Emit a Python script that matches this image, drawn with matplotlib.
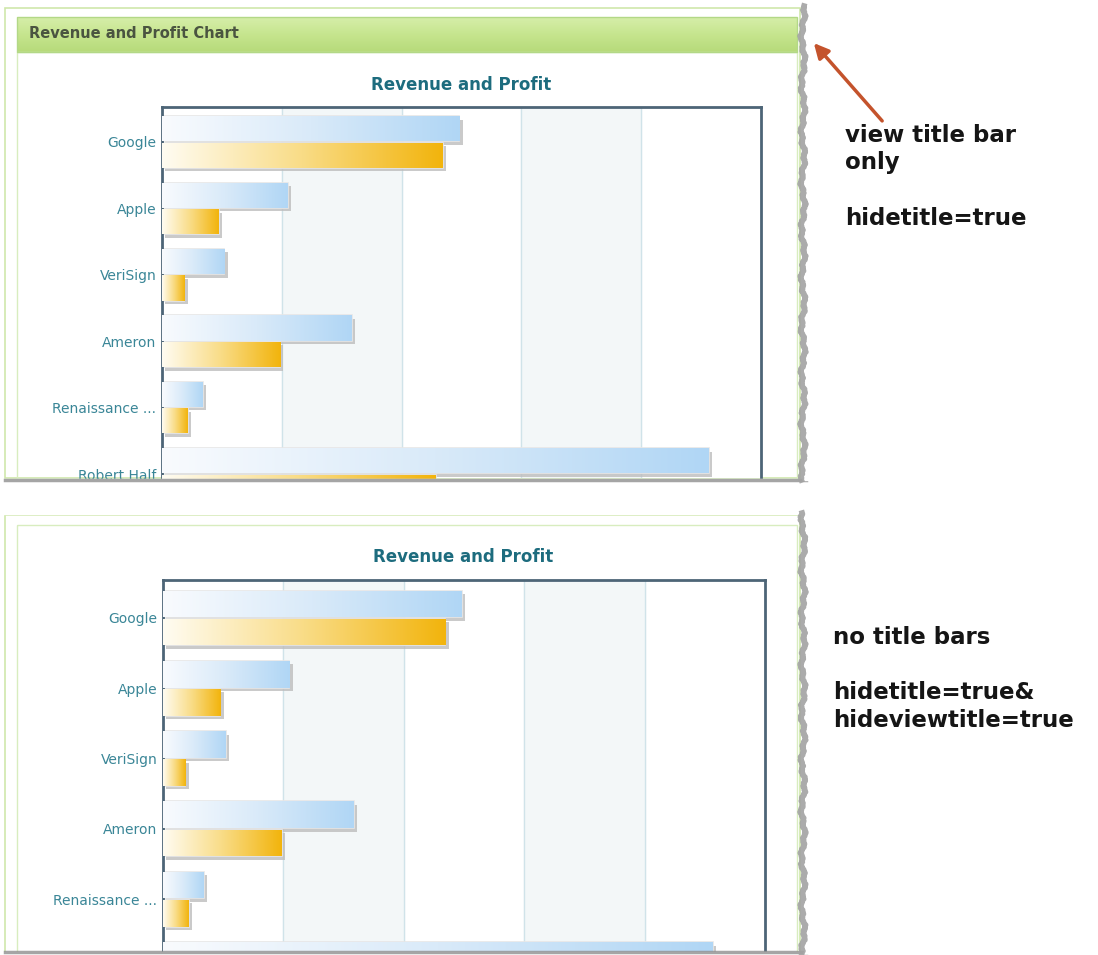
import numpy as np
import matplotlib
matplotlib.use("Agg")
import matplotlib.pyplot as plt
import matplotlib.patheffects as pe
from matplotlib.patches import Rectangle
from matplotlib.colors import LinearSegmentedColormap

# data (gridline step = 20)
companies = ["Google", "Apple", "VeriSign", "Ameron", "Renaissance ...", "Robert Half"]
revenue = [49.6, 21.0, 10.4, 31.7, 6.8, 91.3]
profit = [46.9, 9.5, 3.7, 19.7, 4.3, 45.7]
grid_ticks = [20, 40, 60, 80]
bands = [(20, 40), (60, 80)]

W, H = 1098, 955
fig = plt.figure(figsize=(W / 100, H / 100), dpi=100)
fig.patch.set_facecolor("white")

blue = LinearSegmentedColormap.from_list("rev", ["#f9fbfe", "#d9eaf9", "#b0d6f5"])
gold = LinearSegmentedColormap.from_list("prof", ["#fffcf2", "#f9dc86", "#f2b40c"])
green = LinearSegmentedColormap.from_list("bar", ["#d6eeaa", "#c6e58e", "#b6da7a"])
grad = np.linspace(0, 1, 256).reshape(1, -1)


def px_axes(l, t, r, b, z):
    return fig.add_axes([l / W, 1 - b / H, (r - l) / W, (b - t) / H], zorder=z)


# background layer in pixel coords (y down)
bg = px_axes(0, 0, W, H, 0)
bg.axis("off")

# top panel frame + green view title bar
bg.add_patch(Rectangle((5, 8), 795, 470, fill=False, ec="#cfe7ab", lw=1.2))
bg.imshow(grad.T, cmap=green, aspect="auto", extent=(17, 797, 52, 17), zorder=1)
bg.add_patch(Rectangle((17, 17), 780, 35, fill=False, ec="#b3d887", lw=1, zorder=2))
bg.add_patch(Rectangle((17, 52), 780, 426, fill=False, ec="#d8edbf", lw=1))
bg.text(29, 33, "Revenue and Profit Chart", fontsize=10.5, fontweight="bold",
        color="#4a5440", va="center", ha="left")

# bottom panel frame
bg.add_patch(Rectangle((5, 515), 795, 445, fill=False, ec="#cfe7ab", lw=1.2))
bg.add_patch(Rectangle((17, 525), 780, 435, fill=False, ec="#d8edbf", lw=1))
bg.set_xlim(0, W)
bg.set_ylim(H, 0)


def draw_chart(ax, ybot, ytop):
    for a, b in bands:
        ax.axvspan(a, b, color="#f3f7f8", zorder=0)
    for g in grid_ticks:
        ax.axvline(g, color="#d0e3e9", lw=1, zorder=1)
    y = np.arange(len(companies))
    shadow = [pe.SimplePatchShadow(offset=(2.5, -2.5), shadow_rgbFace="#bdbdbd", alpha=0.8),
              pe.Normal()]
    for vals, off, cmap in [(revenue, -0.2, blue), (profit, 0.2, gold)]:
        bars = ax.barh(y + off, vals, height=0.38, color="white", edgecolor="#e6e6e6",
                       lw=1.2, zorder=2)
        for bar in bars:
            bar.set_path_effects(shadow)
            x0, y0 = bar.get_x(), bar.get_y()
            w, h = bar.get_width(), bar.get_height()
            im = ax.imshow(grad, cmap=cmap, aspect="auto", interpolation="bilinear",
                           extent=(x0, x0 + w, y0 + h, y0), zorder=3)
            im.set_clip_path(bar)
    ax.set_xticks([])
    ax.set_yticks(y, companies)
    # limits last: set_yticks would widen them otherwise
    ax.set_xlim(0, 100)
    ax.set_ylim(ybot, ytop)
    ax.tick_params(axis="y", length=0, pad=4, labelsize=10, labelcolor="#3a8697")
    for s in ["left", "top", "right"]:
        ax.spines[s].set_color("#4d6577")
        ax.spines[s].set_linewidth(2)
    ax.spines["bottom"].set_visible(False)


ax1 = px_axes(162, 107, 761, 478, 2)
draw_chart(ax1, (478 - 142) / 66.4, (107 - 142) / 66.4)
fig.text(461 / W, 1 - 85 / H, "Revenue and Profit", ha="center", va="center",
         fontsize=12, fontweight="bold", color="#1d6c7e")

ax2 = px_axes(163, 580, 765, 952, 2)
draw_chart(ax2, (952 - 618) / 70.3, (580 - 618) / 70.3)
fig.text(463 / W, 1 - 557 / H, "Revenue and Profit", ha="center", va="center",
         fontsize=12, fontweight="bold", color="#1d6c7e")

# overlay layer: screenshot cuts, torn edges, notes
ov = px_axes(0, 0, W, H, 5)
ov.axis("off")
ov.patch.set_alpha(0)

ov.add_patch(Rectangle((0, 479), 830, 35, color="white", zorder=1))
ov.add_patch(Rectangle((0, 952), 830, 5, color="white", zorder=1))
ov.plot([5, 806], [479.5, 479.5], color="#8f8f8f", lw=2.5, alpha=0.8, zorder=2)
ov.plot([5, 806], [952, 952], color="#8f8f8f", lw=2.5, alpha=0.8, zorder=2)

for top, bot in [(6, 480), (513, 953)]:
    ys = np.arange(top, bot + 1, 1.0)
    xs = 803 + 1.5 * np.sin(ys * 0.13) + 1.0 * np.sin(ys * 0.47) + 0.6 * np.sin(ys * 1.7)
    ov.fill_betweenx(ys, xs + 1.5, 830, color="white", zorder=2)
    ov.plot(xs, ys, color="#a2a2a2", lw=4, alpha=0.9, zorder=3)

ov.annotate("", xy=(812, 41), xytext=(884, 123),
            arrowprops=dict(arrowstyle="-|>", color="#c4532c", lw=2.5, mutation_scale=22))

note = dict(fontsize=16.5, fontweight="bold", color="#151515", ha="left", va="center")
ov.text(845, 135, "view title bar", **note)
ov.text(845, 163, "only", **note)
ov.text(845, 218, "hidetitle=true", **note)
ov.text(833, 637, "no title bars", **note)
ov.text(833, 692, "hidetitle=true&", **note)
ov.text(833, 720, "hideviewtitle=true", **note)

ov.set_xlim(0, W)
ov.set_ylim(H, 0)

fig.savefig("out.png", dpi=100, facecolor="white")
